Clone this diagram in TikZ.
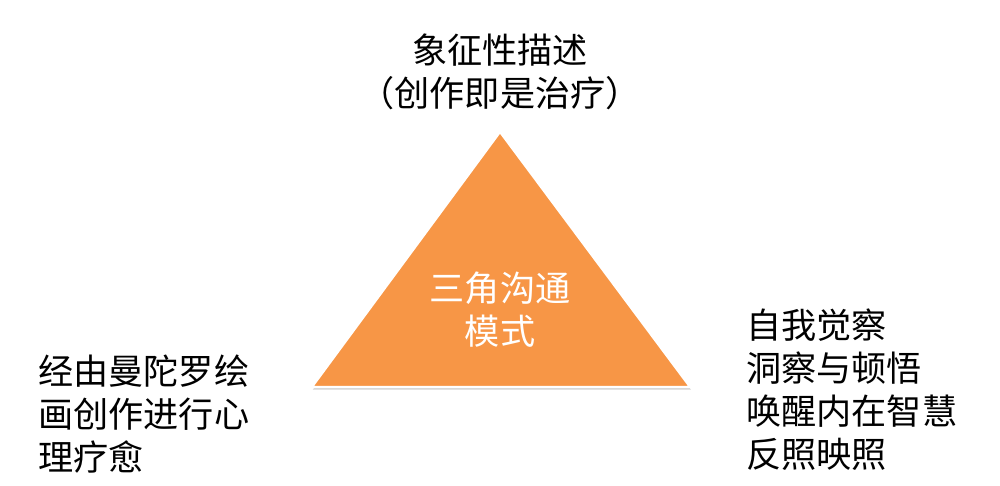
\documentclass[tikz,border=0pt]{standalone}
\usepackage{fontspec}
\setmainfont{Noto Sans CJK SC}
\usetikzlibrary{shadows}
\definecolor{triangleColor}{RGB}{247,150,70}
\tikzstyle{canvas} = [x = .02cm, y = -.02cm]
\tikzstyle{triangleStyle} = [fill=triangleColor, draw=white, line width=1.2pt, line join=miter,
  drop shadow={shadow xshift=.5pt, shadow yshift=-1.5pt, opacity=.35}]
\tikzstyle{labelText} = [inner sep=0pt, font=\fontsize{20}{24.5}\selectfont]
\tikzstyle{innerText} = [labelText, text=white, align=center]

\begin{document}
\begin{tikzpicture}[canvas]
  \useasboundingbox (0,0) rectangle (1000,485);
  % triangle
  \coordinate (apex) at (500,132);
  \coordinate (leftCorner) at (312,387);
  \coordinate (rightCorner) at (690,387);
  \filldraw [triangleStyle] (apex) -- (leftCorner) -- (rightCorner) -- cycle;
  \node [innerText] (model) at (500,310) {三角沟通\\模式};

  % labels
  \node [labelText, align=center] (topLabel) at (500,72) {象征性描述\\（创作即是治疗）};
  \node [labelText, align=left, anchor=west] (leftLabel) at (38,414) {经由曼陀罗绘\\画创作进行心\\理疗愈};
  \node [labelText, align=left, anchor=west] (rightLabel) at (746,390) {自我觉察\\洞察与顿悟\\唤醒内在智慧\\反照映照};
\end{tikzpicture}
\end{document}
